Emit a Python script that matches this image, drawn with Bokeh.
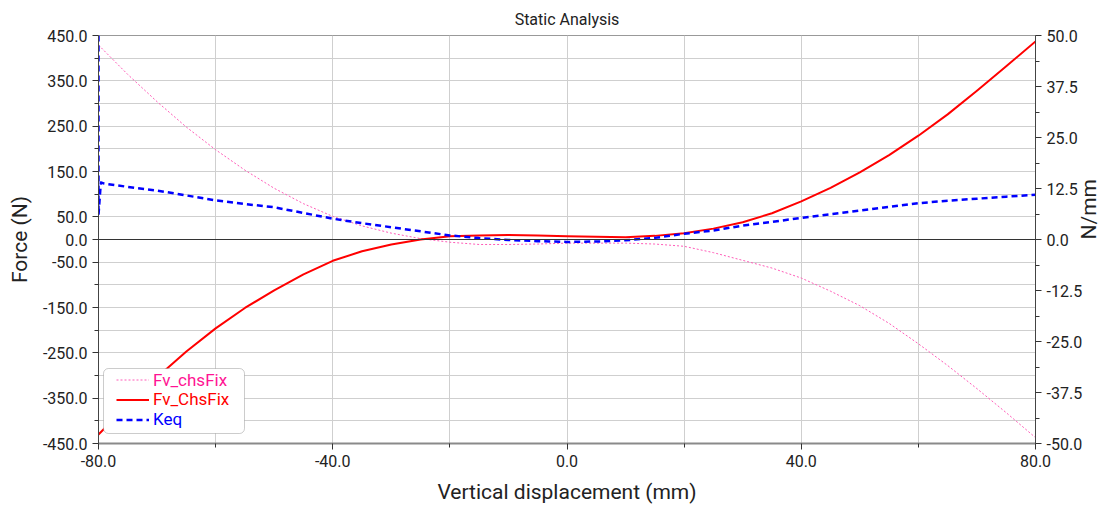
import math
from bokeh.plotting import figure
from bokeh.models import (Range1d, LinearAxis, FixedTicker, PrintfTickFormatter,
                          Span, Legend, LegendItem, BoxAnnotation)
from bokeh.embed import file_html
from bokeh.resources import INLINE

# Vertical displacement samples (mm)
disp = [-80, -75, -70, -65, -60, -55, -50, -45, -40, -35, -30, -25, -20, -15, -10, -5,
        0, 5, 10, 15, 20, 25, 30, 35, 40, 45, 50, 55, 60, 65, 70, 75, 80]

# Force, chassis fixed (N)
fv_ChsFix = [-430, -365, -304, -247, -196, -151, -112, -77, -47, -26, -11, 0, 7, 9, 10, 9,
             7, 6, 5, 8, 14, 24, 38, 58, 84, 114, 148, 186, 229, 276, 328, 382, 437]

# Force, chassis fixed, opposite sign convention (N)
fv_chsFix = [429, 364, 304, 248, 198, 153, 113, 79, 51, 30, 14, 2, -6, -11, -11, -10,
             -8, -8, -8, -10, -15, -29, -46, -63, -85, -114, -146, -185, -230, -278, -329, -382, -437]

# Equivalent stiffness (N/mm)
keq_disp = [-80, -80, -79.6, -79, -75, -70, -65, -60, -55, -50, -45, -40, -35, -30, -25, -20, -15,
            -10, -5, 0, 5, 10, 15, 20, 25, 30, 35, 40, 45, 50, 55, 60, 65, 70, 75, 80]
keq = [50, 6.0, 14.0, 13.7, 12.9, 12.0, 10.8, 9.6, 8.7, 7.9, 6.5, 5.1, 4.0, 3.0, 2.0, 1.0, 0.35,
       -0.1, -0.4, -0.6, -0.5, -0.2, 0.4, 1.4, 2.2, 3.4, 4.3, 5.3, 6.2, 7.1, 8.0, 8.9, 9.5, 10.0, 10.5, 10.95]

force_ticks = [-450, -350, -250, -150, -50, 0, 50, 150, 250, 350, 450]
force_minor = [-400, -300, -200, -100, 100, 200, 300, 400]
force_grid = list(range(-450, 451, 50))
stiff_ticks = [-50, -37.5, -25, -12.5, 0, 12.5, 25, 37.5, 50]
stiff_minor = [-43.75, -31.25, -18.75, -6.25, 6.25, 18.75, 31.25, 43.75]
disp_ticks = [-80, -40, 0, 40, 80]
disp_minor = [-60, -20, 20, 60]
disp_grid = list(range(-80, 81, 20))

FONT = "Roboto"
TXT = "#222222"

p = figure(width=1116, height=508, output_backend="svg", toolbar_location=None,
           x_range=Range1d(-80, 80), y_range=Range1d(-450, 450),
           title="Static Analysis", min_border_left=98, min_border_right=80,
           min_border_top=35, min_border_bottom=65)
p.extra_y_ranges = {"k": Range1d(-50, 50)}

p.title.align = "center"
p.title.text_font = FONT
p.title.text_font_size = "16px"
p.title.text_font_style = "normal"
p.title.text_color = TXT
p.title.standoff = 14

p.outline_line_color = "#999999"
p.outline_line_width = 1
p.background_fill_color = "white"
p.border_fill_color = "white"

# Grid every 50 N and every 20 mm
p.ygrid.ticker = FixedTicker(ticks=force_grid)
p.xgrid.ticker = FixedTicker(ticks=disp_grid)
p.grid.grid_line_color = "#cfcfcf"
p.grid.grid_line_width = 1

def style_axis(ax):
    ax.axis_label_text_font = FONT
    ax.axis_label_text_font_size = "21px"
    ax.axis_label_text_font_style = "normal"
    ax.axis_label_text_color = TXT
    ax.major_label_text_font = FONT
    ax.major_label_text_font_size = "16px"
    ax.major_label_text_color = TXT
    ax.major_tick_in = 0
    ax.major_tick_out = 6
    ax.minor_tick_in = 0
    ax.minor_tick_out = 4
    ax.major_tick_line_color = "#333333"
    ax.minor_tick_line_color = "#333333"
    ax.formatter = PrintfTickFormatter(format="%.1f")

xa = p.xaxis[0]
style_axis(xa)
xa.ticker = FixedTicker(ticks=disp_ticks, minor_ticks=disp_minor)
xa.axis_label = "Vertical displacement (mm)"
xa.axis_line_color = "#8a8a8a"
xa.axis_line_width = 2
xa.axis_label_standoff = 10

ya = p.yaxis[0]
style_axis(ya)
ya.ticker = FixedTicker(ticks=force_ticks, minor_ticks=force_minor)
ya.axis_label = "Force (N)"
ya.axis_line_color = "#444444"
ya.axis_line_width = 1
ya.axis_label_standoff = 8

ra = LinearAxis(y_range_name="k", axis_label="N/mm")
style_axis(ra)
ra.ticker = FixedTicker(ticks=stiff_ticks, minor_ticks=stiff_minor)
ra.axis_line_color = "#444444"
ra.axis_label_standoff = 4
if "axis_label_orientation" in ra.properties():
    ra.axis_label_orientation = math.pi / 2
p.add_layout(ra, "right")

p.add_layout(Span(location=0, dimension="width", line_color="#333333", line_width=1))

r_pink = p.line(disp, fv_chsFix, line_color="#ff5cb8", line_width=1, line_dash="2 2",
                line_join="round")
r_red = p.line(disp, fv_ChsFix, line_color="#ff0000", line_width=2, line_join="round")
r_blue = p.line(keq_disp, keq, line_color="#0000ff", line_width=2.5, line_dash="6 4",
                line_join="round", y_range_name="k")

# Legend frame
p.add_layout(BoxAnnotation(left=5, right=146, bottom=10, top=75,
                           left_units="screen", right_units="screen",
                           bottom_units="screen", top_units="screen",
                           fill_color="white", fill_alpha=1,
                           line_color="#555555", line_width=1, border_radius=5))

for r, name, col, y in [(r_pink, "Fv_chsFix", "#ff1493", 53.5),
                        (r_red, "Fv_ChsFix", "#ff0000", 34),
                        (r_blue, "Keq", "#0000ff", 14)]:
    lg = Legend(items=[LegendItem(label=name, renderers=[r])], location=(18, y),
                padding=0, margin=0, spacing=0, glyph_height=19, label_height=19,
                glyph_width=33, label_standoff=4, border_line_alpha=0,
                background_fill_alpha=0, label_text_font=FONT,
                label_text_font_size="17px", label_text_color=col)
    p.add_layout(lg, "center")

open("out.html", "w").write(file_html(p, INLINE))
